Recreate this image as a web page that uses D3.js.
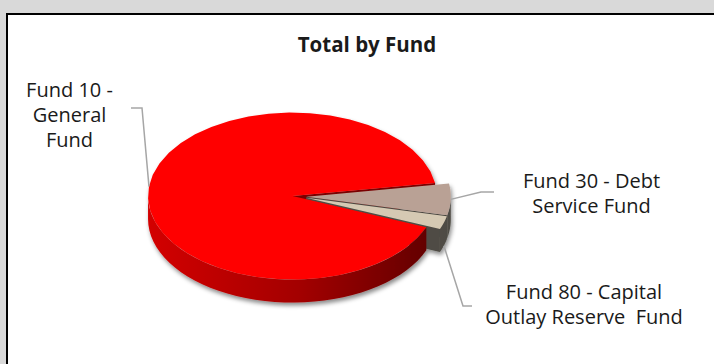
<!DOCTYPE html>
<html>
<head>
<meta charset="utf-8">
<script src="https://cdn.jsdelivr.net/npm/d3@7"></script>
<style>
  html, body { margin: 0; padding: 0; background: #d9d9d9; }
  svg { display: block; }
  text { font-family: "Open Sans", Lato, sans-serif; fill: #1a1a1a; }
</style>
</head>
<body>
<svg id="chart" width="714" height="364"></svg>
<script>
// Fund totals
const funds = ["Fund 10 - General Fund", "Fund 30 - Debt Service Fund", "Fund 80 - Capital Outlay Reserve Fund"];
const totals = [9120000, 605000, 255000];
const labelLines = [["Fund 10 -", "General", "Fund"], ["Fund 30 - Debt", "Service Fund"], ["Fund 80 - Capital", "Outlay Reserve  Fund"]];
const chartTitle = "Total by Fund";

const topColors = ["#ff0000", "#b9a195", "#d5c9b3"];
const wallColors = [["#d40000", "#a30000", "#560000"], ["#625f57", "#5a574f", "#4e4b44"], ["#625f57", "#5a574f", "#4e4b44"]];
const faceColors = ["#7a0000", "#4a4740", "#4f4c45"];

const W = 714, H = 364;
const svg = d3.select("#chart");

// frame
svg.append("rect").attr("x", 0).attr("y", 0).attr("width", W).attr("height", H).attr("fill", "#d9d9d9");
svg.append("rect").attr("x", 7).attr("y", 14).attr("width", 740).attr("height", 380)
  .attr("fill", "#ffffff").attr("stroke", "#000").attr("stroke-width", 2);

svg.append("text").attr("x", 367).attr("y", 52).attr("text-anchor", "middle")
  .style("font-weight", "bold").style("font-size", "20.5px").text(chartTitle);

// 3D pie geometry: ellipse projection of a flat disc with some thickness
const cx = 299.4, cy = 196.5, rx = 144.4, ry = 83.5, depth = 23, explode = 7;

const pie = d3.pie().sort(null).value(d => d)
  .startAngle(112 * Math.PI / 180).endAngle((112 + 360) * Math.PI / 180);
const arcs = pie(totals);

const defs = svg.append("defs");
const shadow = defs.append("filter").attr("id", "pieShadow")
  .attr("x", "-10%").attr("y", "-10%").attr("width", "120%").attr("height", "130%");
shadow.append("feDropShadow").attr("dx", 1.5).attr("dy", 3).attr("stdDeviation", 2.2)
  .attr("flood-color", "#000").attr("flood-opacity", 0.45);

wallColors.forEach((c, i) => {
  const g = defs.append("linearGradient").attr("id", "wall" + i)
    .attr("gradientUnits", "userSpaceOnUse")
    .attr("x1", cx - rx - 10).attr("x2", cx + rx + 10).attr("y1", 0).attr("y2", 0);
  g.append("stop").attr("offset", 0).attr("stop-color", c[0]);
  g.append("stop").attr("offset", 0.5).attr("stop-color", c[1]);
  g.append("stop").attr("offset", 1).attr("stop-color", c[2]);
});

// per-slice explosion offset along its mid angle
arcs.forEach(a => {
  const m = (a.startAngle + a.endAngle) / 2;
  a.mid = m;
  a.ox = explode * Math.sin(m);
  a.oy = -explode * (ry / rx) * Math.cos(m);
});

const pt = (a, ang, dy = 0) => [cx + a.ox + rx * Math.sin(ang), cy + a.oy - ry * Math.cos(ang) + dy];
const ctr = (a, dy = 0) => [cx + a.ox, cy + a.oy + dy];
const sample = (a0, a1) => d3.range(0, 41).map(k => a0 + (a1 - a0) * k / 40);
const line = d3.line();

const pieG = svg.append("g").attr("filter", "url(#pieShadow)");

// visible part of an outer wall: lower half of the ellipse (angles 90°..270°, mod 360)
function frontRange(a0, a1) {
  const T = 2 * Math.PI;
  const ranges = [];
  for (let k = -1; k <= 2; k++) {
    const lo = Math.max(a0, Math.PI / 2 + k * T), hi = Math.min(a1, 3 * Math.PI / 2 + k * T);
    if (hi > lo) ranges.push([lo, hi]);
  }
  return ranges;
}

// cut faces at slice ends (visible when facing the viewer)
arcs.forEach((a, i) => {
  if (Math.sin(a.endAngle) > 0) {
    const p = pt(a, a.endAngle), c = ctr(a);
    pieG.append("path")
      .attr("d", line([c, p, [p[0], p[1] + depth], [c[0], c[1] + depth]]) + "Z")
      .attr("fill", faceColors[i]);
  }
});

// outer walls, frontmost slice drawn last
[1, 2, 0].forEach(i => {
  const a = arcs[i];
  frontRange(a.startAngle, a.endAngle).forEach(([lo, hi]) => {
    const angs = sample(lo, hi);
    const topPts = angs.map(g => pt(a, g));
    const botPts = angs.slice().reverse().map(g => pt(a, g, depth));
    pieG.append("path").attr("d", line(topPts.concat(botPts)) + "Z")
      .attr("fill", `url(#wall${i})`);
  });
});

// top faces
arcs.forEach((a, i) => {
  const pts = [ctr(a)].concat(sample(a.startAngle, a.endAngle).map(g => pt(a, g)));
  pieG.append("path").attr("d", line(pts) + "Z").attr("fill", topColors[i]);
});

// data labels with leader lines
const labelPos = [
  { x: 69.5, y: 97, leader: [[131, 108], [142, 108]], onWall: false },
  { x: 591.5, y: 188, leader: [[494, 192], [481, 192]], onWall: false },
  { x: 584, y: 299, leader: [[472, 306], [463, 306]], onWall: true }
];
const lineH = 25;

arcs.forEach((a, i) => {
  const L = labelPos[i];
  const anchor = pt(a, a.mid, L.onWall ? depth : 0);
  svg.append("path")
    .attr("d", line(L.leader.concat([anchor])))
    .attr("fill", "none").attr("stroke", "#a6a6a6").attr("stroke-width", 1.5);
  const t = svg.append("text").attr("text-anchor", "middle").style("font-size", "20px")
    .attr("aria-label", funds[i]);
  labelLines[i].forEach((s, k) => {
    t.append("tspan").attr("x", L.x).attr("y", L.y + k * lineH).style("white-space", "pre").text(s);
  });
});
</script>
</body>
</html>
